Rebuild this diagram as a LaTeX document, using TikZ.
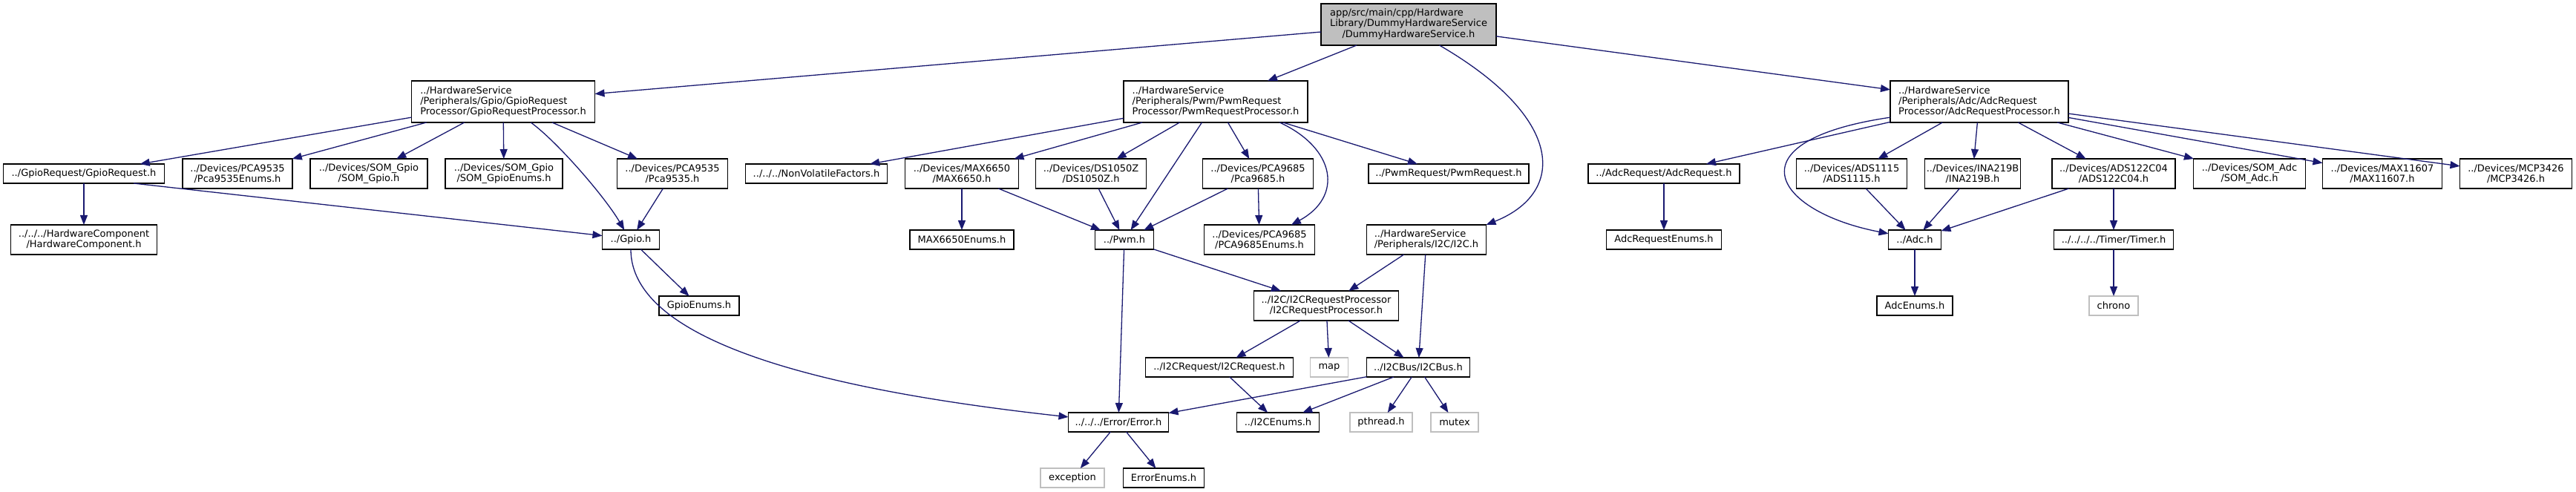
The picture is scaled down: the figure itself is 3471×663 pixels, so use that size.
\documentclass[tikz,border=0pt]{standalone}
\usepackage{fontspec}
\setmainfont{DejaVu Sans}
\usetikzlibrary{arrows.meta}
\definecolor{edgecol}{HTML}{191970}
\definecolor{rootfill}{HTML}{BFBFBF}
\definecolor{sysborder}{HTML}{BFBFBF}
\tikzset{
  nd/.style={draw=black, line width=0.8pt, fill=white, inner sep=0pt, outer sep=0pt,
    font=\fontsize{6.5}{7.1}\selectfont, align=center, minimum height=13pt},
  sys/.style={nd, draw=sysborder},
  lft/.style={align=left},
  bw/.style={minimum width=#1*0.5pt},
  bh/.style={minimum height=#1*0.5pt},
  edge/.style={draw=edgecol, line width=0.65pt, -{Triangle[length=6.5pt,width=5pt]}}
}
\begin{document}
\begin{tikzpicture}[x=0.5pt,y=-0.5pt]
\path[use as bounding box] (0,0) rectangle (3471,663);
% row 0
\node[nd, bw=236, bh=56, fill=rootfill] (root) at (1898,33) {\begin{tabular}{@{}l@{}}app/src/main/cpp/Hardware\\\multicolumn{1}{@{}c@{}}{Library/DummyHardwareService}\\\multicolumn{1}{@{}c@{}}{/DummyHardwareService.h}\end{tabular}};
% row 1
\node[nd, lft, bw=247, bh=56] (gpiorp) at (678,137) {../HardwareService\\/Peripherals/Gpio/GpioRequest\\Processor/GpioRequestProcessor.h};
\node[nd, lft, bw=248, bh=56] (pwmrp) at (1638,137) {../HardwareService\\/Peripherals/Pwm/PwmRequest\\Processor/PwmRequestProcessor.h};
\node[nd, lft, bw=240, bh=56] (adcrp) at (2667,137) {../HardwareService\\/Peripherals/Adc/AdcRequest\\Processor/AdcRequestProcessor.h};
% row 2
\node[nd, bw=217] (gpioreq) at (113,234) {../GpioRequest/GpioRequest.h};
\node[nd, bw=148, bh=40] (pcaenum35) at (320,234) {../Devices/PCA9535\\/Pca9535Enums.h};
\node[nd, bw=158, bh=40] (somgpio) at (497,234) {../Devices/SOM\_Gpio\\/SOM\_Gpio.h};
\node[nd, bw=158, bh=40] (somgpioenums) at (679,234) {../Devices/SOM\_Gpio\\/SOM\_GpioEnums.h};
\node[nd, bw=149, bh=40] (pca9535) at (906,234) {../Devices/PCA9535\\/Pca9535.h};
\node[nd, bw=191] (nvf) at (1100,234) {../../../NonVolatileFactors.h};
\node[nd, bw=153, bh=40] (max6650) at (1296,234) {../Devices/MAX6650\\/MAX6650.h};
\node[nd, bw=149, bh=40] (ds1050z) at (1470,234) {../Devices/DS1050Z\\/DS1050Z.h};
\node[nd, bw=149, bh=40] (pca9685) at (1695,234) {../Devices/PCA9685\\/Pca9685.h};
\node[nd, bw=216] (pwmreq) at (1952,234) {../PwmRequest/PwmRequest.h};
\node[nd, bw=204] (adcreq) at (2242,234) {../AdcRequest/AdcRequest.h};
\node[nd, bw=149, bh=40] (ads1115) at (2495,234) {../Devices/ADS1115\\/ADS1115.h};
\node[nd, bw=129, bh=40] (ina219b) at (2658,234) {../Devices/INA219B\\/INA219B.h};
\node[nd, bw=166, bh=40] (ads122) at (2848,234) {../Devices/ADS122C04\\/ADS122C04.h};
\node[nd, bw=151, bh=40] (somadc) at (3031,234) {../Devices/SOM\_Adc\\/SOM\_Adc.h};
\node[nd, bw=161, bh=40] (max11607) at (3210,234) {../Devices/MAX11607\\/MAX11607.h};
\node[nd, bw=151, bh=40] (mcp3426) at (3390,234) {../Devices/MCP3426\\/MCP3426.h};
% row 3
\node[nd, bw=197, bh=40] (hwcomp) at (113,323) {../../../HardwareComponent\\/HardwareComponent.h};
\node[nd, bw=77] (gpio) at (850,323) {../Gpio.h};
\node[nd, bw=140] (max6650enums) at (1296,323) {MAX6650Enums.h};
\node[nd, bw=79] (pwm) at (1515,323) {../Pwm.h};
\node[nd, bw=149, bh=40] (pca9685enums) at (1697,323) {../Devices/PCA9685\\/PCA9685Enums.h};
\node[nd, lft, bw=161, bh=40] (i2c) at (1922,323) {../HardwareService\\/Peripherals/I2C/I2C.h};
\node[nd, bw=155] (adcreqenums) at (2242,323) {AdcRequestEnums.h};
\node[nd, bw=71] (adc) at (2580,323) {../Adc.h};
\node[nd, bw=161] (timer) at (2848,323) {../../../../Timer/Timer.h};
% row 4
\node[nd, bw=108] (gpioenums) at (942,412) {GpioEnums.h};
\node[nd, bw=195, bh=40] (i2crp) at (1787,412) {../I2C/I2CRequestProcessor\\/I2CRequestProcessor.h};
\node[nd, bw=102] (adcenums) at (2580,412) {AdcEnums.h};
\node[sys, bw=66] (chrono) at (2848,412) {chrono};
% row 5
\node[nd, bw=199] (i2creq) at (1643,495) {../I2CRequest/I2CRequest.h};
\node[sys, bw=51] (map) at (1791,495) {map};
\node[nd, bw=139] (i2cbus) at (1911,495) {../I2CBus/I2CBus.h};
% row 6
\node[nd, bw=135] (error) at (1507,569) {../../../Error/Error.h};
\node[nd, bw=111] (i2cenums) at (1722,569) {../I2CEnums.h};
\node[sys, bw=84] (pthread) at (1861,569) {pthread.h};
\node[sys, bw=64] (mutex) at (1960,569) {mutex};
% row 7
\node[sys, bw=86] (exception) at (1445,644) {exception};
\node[nd, bw=109] (errorenums) at (1568,644) {ErrorEnums.h};

% edges from root
\draw[edge] (root) -- (gpiorp);
\draw[edge] (root) -- (pwmrp);
\draw[edge] (root) -- (adcrp);
\draw[edge] (root.-34) .. controls (2110,160) and (2110,260) .. (i2c.north east);
% gpio request processor
\draw[edge] (gpiorp) -- (gpioreq);
\draw[edge] (gpiorp) -- (pcaenum35);
\draw[edge] (gpiorp) -- (somgpio);
\draw[edge] (gpiorp) -- (somgpioenums);
\draw[edge] (gpiorp) -- (pca9535);
\draw[edge] (gpiorp.-37) .. controls (750,190) and (815,265) .. (gpio.124);
\draw[edge] (gpioreq) -- (hwcomp);
\draw[edge] (gpioreq.-11) -- (gpio.172);
\draw[edge] (pca9535) -- (gpio);
\draw[edge] (gpio) -- (gpioenums);
\draw[edge] (gpio.south) .. controls (850,470) and (1150,530) .. (error.174);
% pwm request processor
\draw[edge] (pwmrp) -- (nvf);
\draw[edge] (pwmrp) -- (max6650);
\draw[edge] (pwmrp) -- (ds1050z);
\draw[edge] (pwmrp) -- (pwm);
\draw[edge] (pwmrp) -- (pca9685);
\draw[edge] (pwmrp.-18) .. controls (1800,200) and (1810,265) .. (pca9685enums.25);
\draw[edge] (pwmrp) -- (pwmreq);
\draw[edge] (max6650) -- (max6650enums);
\draw[edge] (max6650) -- (pwm);
\draw[edge] (ds1050z) -- (pwm);
\draw[edge] (pca9685) -- (pwm);
\draw[edge] (pca9685) -- (pca9685enums);
\draw[edge] (pwm) -- (error);
\draw[edge] (pwm) -- (i2crp);
% i2c
\draw[edge] (i2c) -- (i2crp);
\draw[edge] (i2c) -- (i2cbus);
\draw[edge] (i2crp) -- (i2creq);
\draw[edge] (i2crp) -- (map);
\draw[edge] (i2crp) -- (i2cbus);
\draw[edge] (i2creq) -- (i2cenums);
\draw[edge] (i2cbus) -- (error);
\draw[edge] (i2cbus) -- (i2cenums);
\draw[edge] (i2cbus) -- (pthread);
\draw[edge] (i2cbus) -- (mutex);
\draw[edge] (error) -- (exception);
\draw[edge] (error) -- (errorenums);
% adc request processor
\draw[edge] (adcrp) -- (adcreq);
\draw[edge] (adcrp.190) .. controls (2330,190) and (2390,285) .. (adc.167);
\draw[edge] (adcrp) -- (ads1115);
\draw[edge] (adcrp) -- (ina219b);
\draw[edge] (adcrp) -- (ads122);
\draw[edge] (adcrp) -- (somadc);
\draw[edge] (adcrp) -- (max11607);
\draw[edge] (adcrp) -- (mcp3426);
\draw[edge] (adcreq) -- (adcreqenums);
\draw[edge] (ads1115) -- (adc);
\draw[edge] (ina219b) -- (adc);
\draw[edge] (ads122) -- (adc);
\draw[edge] (ads122) -- (timer);
\draw[edge] (adc) -- (adcenums);
\draw[edge] (timer) -- (chrono);
\end{tikzpicture}
\end{document}
